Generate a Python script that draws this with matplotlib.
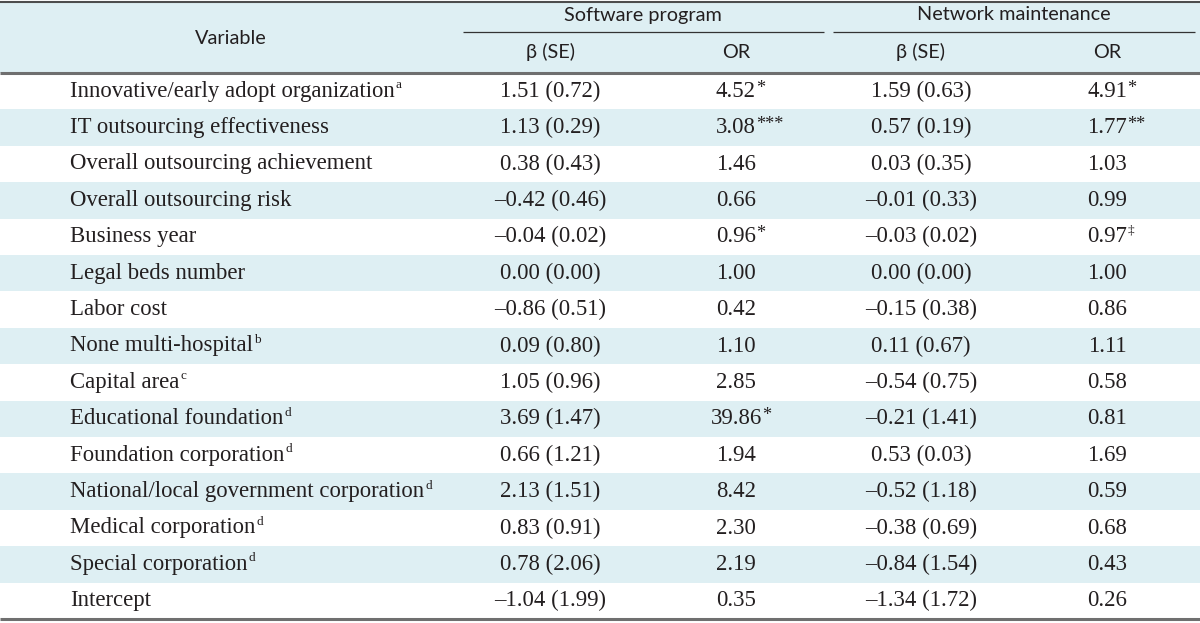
import matplotlib
matplotlib.use("Agg")
import matplotlib.pyplot as plt
from matplotlib.patches import Rectangle

variables = ["Innovative/early adopt organization", "IT outsourcing effectiveness",
             "Overall outsourcing achievement", "Overall outsourcing risk", "Business year",
             "Legal beds number", "Labor cost", "None multi-hospital", "Capital area",
             "Educational foundation", "Foundation corporation",
             "National/local government corporation", "Medical corporation",
             "Special corporation", "Intercept"]
var_sup = ["a", "", "", "", "", "", "", "b", "c", "d", "d", "d", "d", "d", ""]

sw_beta = [1.51, 1.13, 0.38, -0.42, -0.04, 0.00, -0.86, 0.09, 1.05, 3.69, 0.66, 2.13, 0.83, 0.78, -1.04]
sw_se = [0.72, 0.29, 0.43, 0.46, 0.02, 0.00, 0.51, 0.80, 0.96, 1.47, 1.21, 1.51, 0.91, 2.06, 1.99]
sw_or = [4.52, 3.08, 1.46, 0.66, 0.96, 1.00, 0.42, 1.10, 2.85, 39.86, 1.94, 8.42, 2.30, 2.19, 0.35]
sw_sig = ["*", "***", "", "", "*", "", "", "", "", "*", "", "", "", "", ""]

nw_beta = [1.59, 0.57, 0.03, -0.01, -0.03, 0.00, -0.15, 0.11, -0.54, -0.21, 0.53, -0.52, -0.38, -0.84, -1.34]
nw_se = [0.63, 0.19, 0.35, 0.33, 0.02, 0.00, 0.38, 0.67, 0.75, 1.41, 0.03, 1.18, 0.69, 1.54, 1.72]
nw_or = [4.91, 1.77, 1.03, 0.99, 0.97, 1.00, 0.86, 1.11, 0.58, 0.81, 1.69, 0.59, 0.68, 0.43, 0.26]
nw_sig = ["*", "**", "", "", "\u2021", "", "", "", "", "", "", "", "", "", ""]

groups = ["Software program", "Network maintenance"]
subheads = ["\u03b2 (SE)", "OR", "\u03b2 (SE)", "OR"]

W, H = 1200, 623
fig = plt.figure(figsize=(W / 100, H / 100), dpi=100)
ax = fig.add_axes([0, 0, 1, 1])
ax.set_xlim(0, W)
ax.set_ylim(H, 0)
ax.axis("off")

BG = "#deeff3"
TXT = "#231f20"
HFONT = ["Lato", "DejaVu Sans"]
BFONT = "Liberation Serif"

fig.canvas.draw()
renderer = fig.canvas.get_renderer()
inv = ax.transData.inverted()

def width_px(s, size, fam):
    t = ax.text(0, 0, s, fontsize=size, family=fam)
    bb = t.get_window_extent(renderer=renderer)
    t.remove()
    return bb.width

# calibrate font sizes to the reference text widths
BSIZE = 14.0 * 326.0 / width_px(variables[0], 14.0, BFONT)
HSIZE = 14.0 * 159.0 / width_px(groups[0], 14.0, HFONT)

header_top, header_bot, table_bot = 2, 73, 619
row_h = (table_bot - header_bot) / len(variables)

ax.add_patch(Rectangle((0, header_top), W, header_bot - header_top, color=BG, zorder=0, lw=0))
for i in range(len(variables)):
    if i % 2 == 1:
        ax.add_patch(Rectangle((0, header_bot + i * row_h), W, row_h, color=BG, zorder=0, lw=0))

ax.plot([0, W], [header_top, header_top], color="#4d4d4d", lw=1.5, solid_capstyle="butt")
ax.plot([0, W], [header_bot, header_bot], color="#6f6f6f", lw=2.2, solid_capstyle="butt")
ax.plot([0, W], [table_bot, table_bot], color="#6f6f6f", lw=2.2, solid_capstyle="butt")
ax.plot([463, 824], [32, 32], color="#333333", lw=0.9, solid_capstyle="butt")
ax.plot([833, 1195], [32, 32], color="#333333", lw=0.9, solid_capstyle="butt")

ax.text(231, 38, "Variable", ha="center", va="center", fontsize=HSIZE, family=HFONT, color=TXT)
ax.text(643, 15, groups[0], ha="center", va="center", fontsize=HSIZE, family=HFONT, color=TXT)
ax.text(1014, 15, groups[1], ha="center", va="center", fontsize=HSIZE, family=HFONT, color=TXT)
col_x = [550, 736, 921, 1107]
for x, s in zip(col_x, subheads):
    ax.text(x, 52, s, ha="center", va="center", fontsize=HSIZE, family=HFONT, color=TXT)

def fmt(v):
    s = f"{abs(v):.2f}"
    return ("\u2013" + s) if v < 0 else s

def right_edge(t):
    bb = t.get_window_extent(renderer=renderer)
    return inv.transform((bb.x1, bb.y1))[0]

for i, name in enumerate(variables):
    y = header_bot + (i + 0.5) * row_h
    t = ax.text(70, y, name, ha="left", va="center", fontsize=BSIZE, family=BFONT, color=TXT)
    if var_sup[i]:
        ax.text(right_edge(t) + 1, y - 6, var_sup[i], ha="left", va="center",
                fontsize=BSIZE * 0.58, family=BFONT, color=TXT)
    ax.text(col_x[0], y, f"{fmt(sw_beta[i])} ({sw_se[i]:.2f})", ha="center", va="center",
            fontsize=BSIZE, family=BFONT, color=TXT)
    ax.text(col_x[2], y, f"{fmt(nw_beta[i])} ({nw_se[i]:.2f})", ha="center", va="center",
            fontsize=BSIZE, family=BFONT, color=TXT)
    for cx, val, sig in ((col_x[1], sw_or[i], sw_sig[i]), (col_x[3], nw_or[i], nw_sig[i])):
        t = ax.text(cx, y, f"{val:.2f}", ha="center", va="center", fontsize=BSIZE,
                    family=BFONT, color=TXT)
        if sig:
            small = sig == "\u2021"
            ax.text(right_edge(t) + 0.5, y - (6 if small else 3), sig, ha="left", va="center",
                    fontsize=BSIZE * (0.58 if small else 0.8), family=BFONT, color=TXT)

fig.savefig("out.png", dpi=100)
